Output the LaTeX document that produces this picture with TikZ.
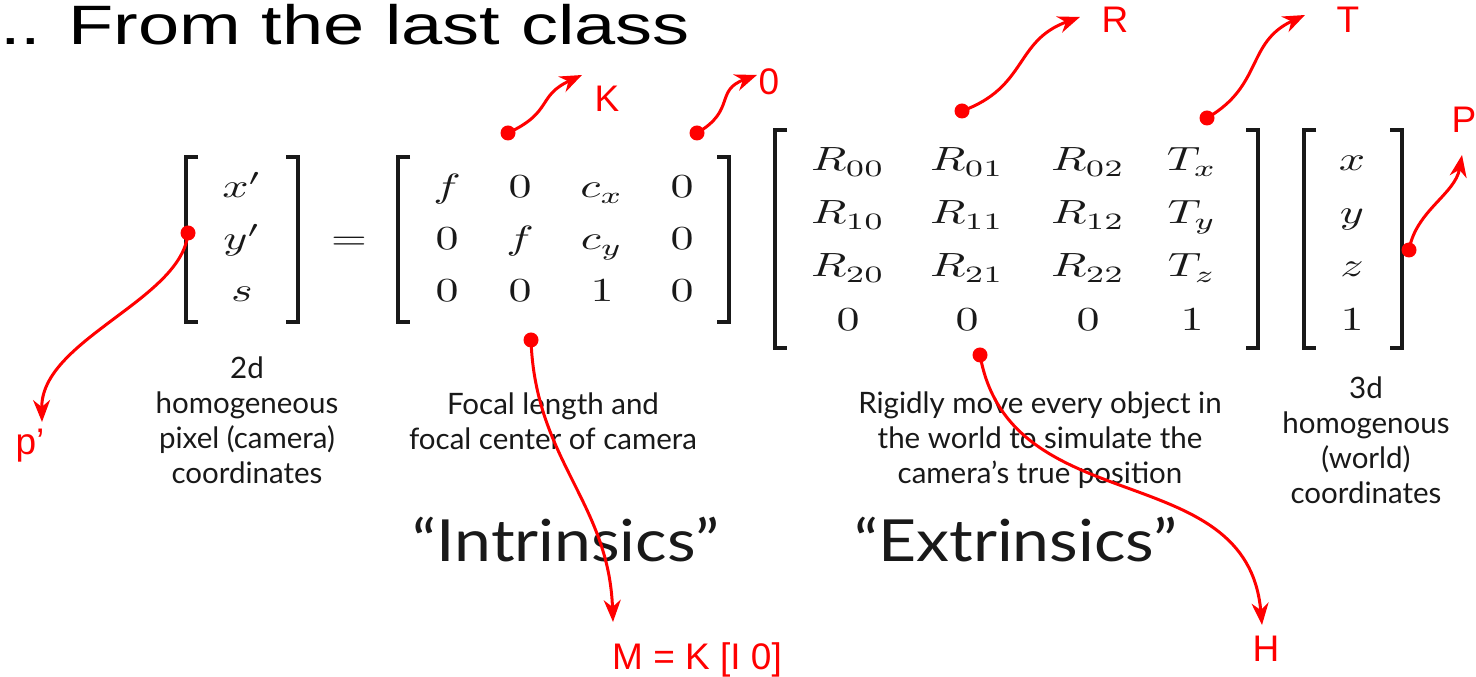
\documentclass[tikz,border=0pt]{standalone}
\usepackage{amsmath}
\usepackage{amssymb}
\usepackage{graphicx}
\usepackage{fontspec}
\usepackage{tikz}
\usetikzlibrary{arrows.meta}

\newfontfamily\titlefont{Liberation Sans}
\newfontfamily\capfont{Lato}
\definecolor{annot}{RGB}{255,0,0}
\definecolor{ink}{RGB}{25,25,25}
\newcommand{\squash}[2][0.73]{\scalebox{1}[#1]{#2}}
\newcommand{\mat}[1]{\scalebox{4.6}[3.36]{$#1$}}

\tikzset{
  mentry/.style={anchor=base, inner sep=0pt, ink},
  matbracket/.style={line width=4pt, ink},
  capline/.style={anchor=north, align=center, inner sep=0pt, ink,
    font=\capfont\fontsize{29.5}{35}\selectfont},
  bigword/.style={anchor=base, inner sep=0pt, ink,
    font=\capfont\fontsize{66}{70}\selectfont},
  reddot/.style={circle, fill=annot, inner sep=0pt, minimum size=15pt},
  redlabel/.style={anchor=base, inner sep=0pt, annot,
    font=\titlefont\fontsize{37}{40}\selectfont},
  redarrow/.style={annot, line width=3pt,
    -{Stealth[length=22pt,width=17pt,inset=7pt]}}
}

\begin{document}
\begin{tikzpicture}[x=1pt,y=1pt]
\path[use as bounding box, fill=white] (0,0) rectangle (1476,677);

% title
\node[anchor=base west, inner sep=0pt, font=\titlefont\fontsize{74}{80}\selectfont]
  (title) at (0,632) {\squash[0.75]{.. From the last class}};

% brackets: left x / right x / top / bottom
\foreach \l/\r/\t/\b in {186/298/520/355, 398/729/520/355,
                         775/1258/547/329, 1304/1402/547/329} {
  \draw[matbracket] (\l+12,\t) -| (\l,\b) -- (\l+12,\b);
  \draw[matbracket] (\r-12,\t) -| (\r,\b) -- (\r-12,\b);
}

% image point
\foreach \e/\y [count=\r] in {x'/479, y'/427, s/375}
  \node[mentry] (pv\r) at (242,\y) {\mat{\e}};
\node[mentry] (eq) at (349,427) {\mat{=}};

% intrinsics
\foreach \e/\x [count=\c] in {f/447, 0/520, c_x/602, 0/682}
  \node[mentry] (k1\c) at (\x,479) {\mat{\e}};
\foreach \e/\x [count=\c] in {0/447, f/520, c_y/602, 0/682}
  \node[mentry] (k2\c) at (\x,427) {\mat{\e}};
\foreach \e/\x [count=\c] in {0/447, 0/520, 1/602, 0/682}
  \node[mentry] (k3\c) at (\x,375) {\mat{\e}};

% extrinsics
\foreach \e/\x [count=\c] in {R_{00}/848, R_{01}/967, R_{02}/1088, T_x/1192}
  \node[mentry] (e1\c) at (\x,506) {\mat{\e}};
\foreach \e/\x [count=\c] in {R_{10}/848, R_{11}/967, R_{12}/1088, T_y/1192}
  \node[mentry] (e2\c) at (\x,453) {\mat{\e}};
\foreach \e/\x [count=\c] in {R_{20}/848, R_{21}/967, R_{22}/1088, T_z/1192}
  \node[mentry] (e3\c) at (\x,400) {\mat{\e}};
\foreach \e/\x [count=\c] in {0/848, 0/967, 0/1088, 1/1192}
  \node[mentry] (e4\c) at (\x,346) {\mat{\e}};

% world point
\foreach \e/\y [count=\r] in {x/506, y/453, z/400, 1/346}
  \node[mentry] (wv\r) at (1352,\y) {\mat{\e}};

% captions
\node[capline] (capP) at (247,320) {2d\\homogeneous\\pixel (camera)\\coordinates};
\node[capline] (capK) at (553,284) {Focal length and\\focal center of camera};
\node[capline] (capE) at (1040,285) {Rigidly move every object in\\the world to simulate the\\camera’s true position};
\node[capline] (capW) at (1366,300) {3d\\homogenous\\(world)\\coordinates};
\node[bigword] (intr) at (566,115) {\squash[0.88]{“Intrinsics”}};
\node[bigword] (extr) at (1016,115) {\squash[0.88]{“Extrinsics”}};

% red notes
\node[reddot] (pDot) at (188,444) {};
\node[reddot] (kDot) at (508,544) {};
\node[reddot] (zeroDot) at (697,544) {};
\node[reddot] (rDot) at (962,566) {};
\node[reddot] (tDot) at (1207,559) {};
\node[reddot] (wDot) at (1409,427) {};
\node[reddot] (mDot) at (531,337) {};
\node[reddot] (hDot) at (980,322) {};

\coordinate (pTip) at (42,255);
\coordinate (kTip) at (582,602);
\coordinate (zeroTip) at (757,602);
\coordinate (rTip) at (1080,660);
\coordinate (tTip) at (1305,662);
\coordinate (wTip) at (1462,522);
\coordinate (mTip) at (613,55);
\coordinate (hTip) at (1262,52);

\node[redlabel] (pLab) at (30,222) {p’};
\node[redlabel] (kLab) at (607,565) {K};
\node[redlabel] (zeroLab) at (769,582) {0};
\node[redlabel] (rLab) at (1115,644) {R};
\node[redlabel] (tLab) at (1348,644) {T};
\node[redlabel] (wLab) at (1464,544) {P};
\node[redlabel] (mLab) at (697,7) {M = K [I 0]};
\node[redlabel] (hLab) at (1266,15) {H};

\draw[redarrow] (pDot.center) to[out=265,in=91,out distance=67pt,in distance=82pt] (pTip);
\draw[redarrow] (kDot.center) to[out=25,in=205,distance=50pt] (kTip);
\draw[redarrow] (zeroDot.center) to[out=30,in=200,distance=45pt] (zeroTip);
\draw[redarrow] (rDot.center) to[out=20,in=200,distance=70pt] (rTip);
\draw[redarrow] (tDot.center) to[out=30,in=205,distance=65pt] (tTip);
\draw[redarrow] (wDot.center) to[out=80,in=260,distance=40pt] (wTip);
\draw[redarrow] (mDot.center) to[out=-88,in=92,distance=120pt] (mTip);
\draw[redarrow] (hDot.center) to[out=-80,in=95,distance=170pt] (hTip);
\end{tikzpicture}
\end{document}
